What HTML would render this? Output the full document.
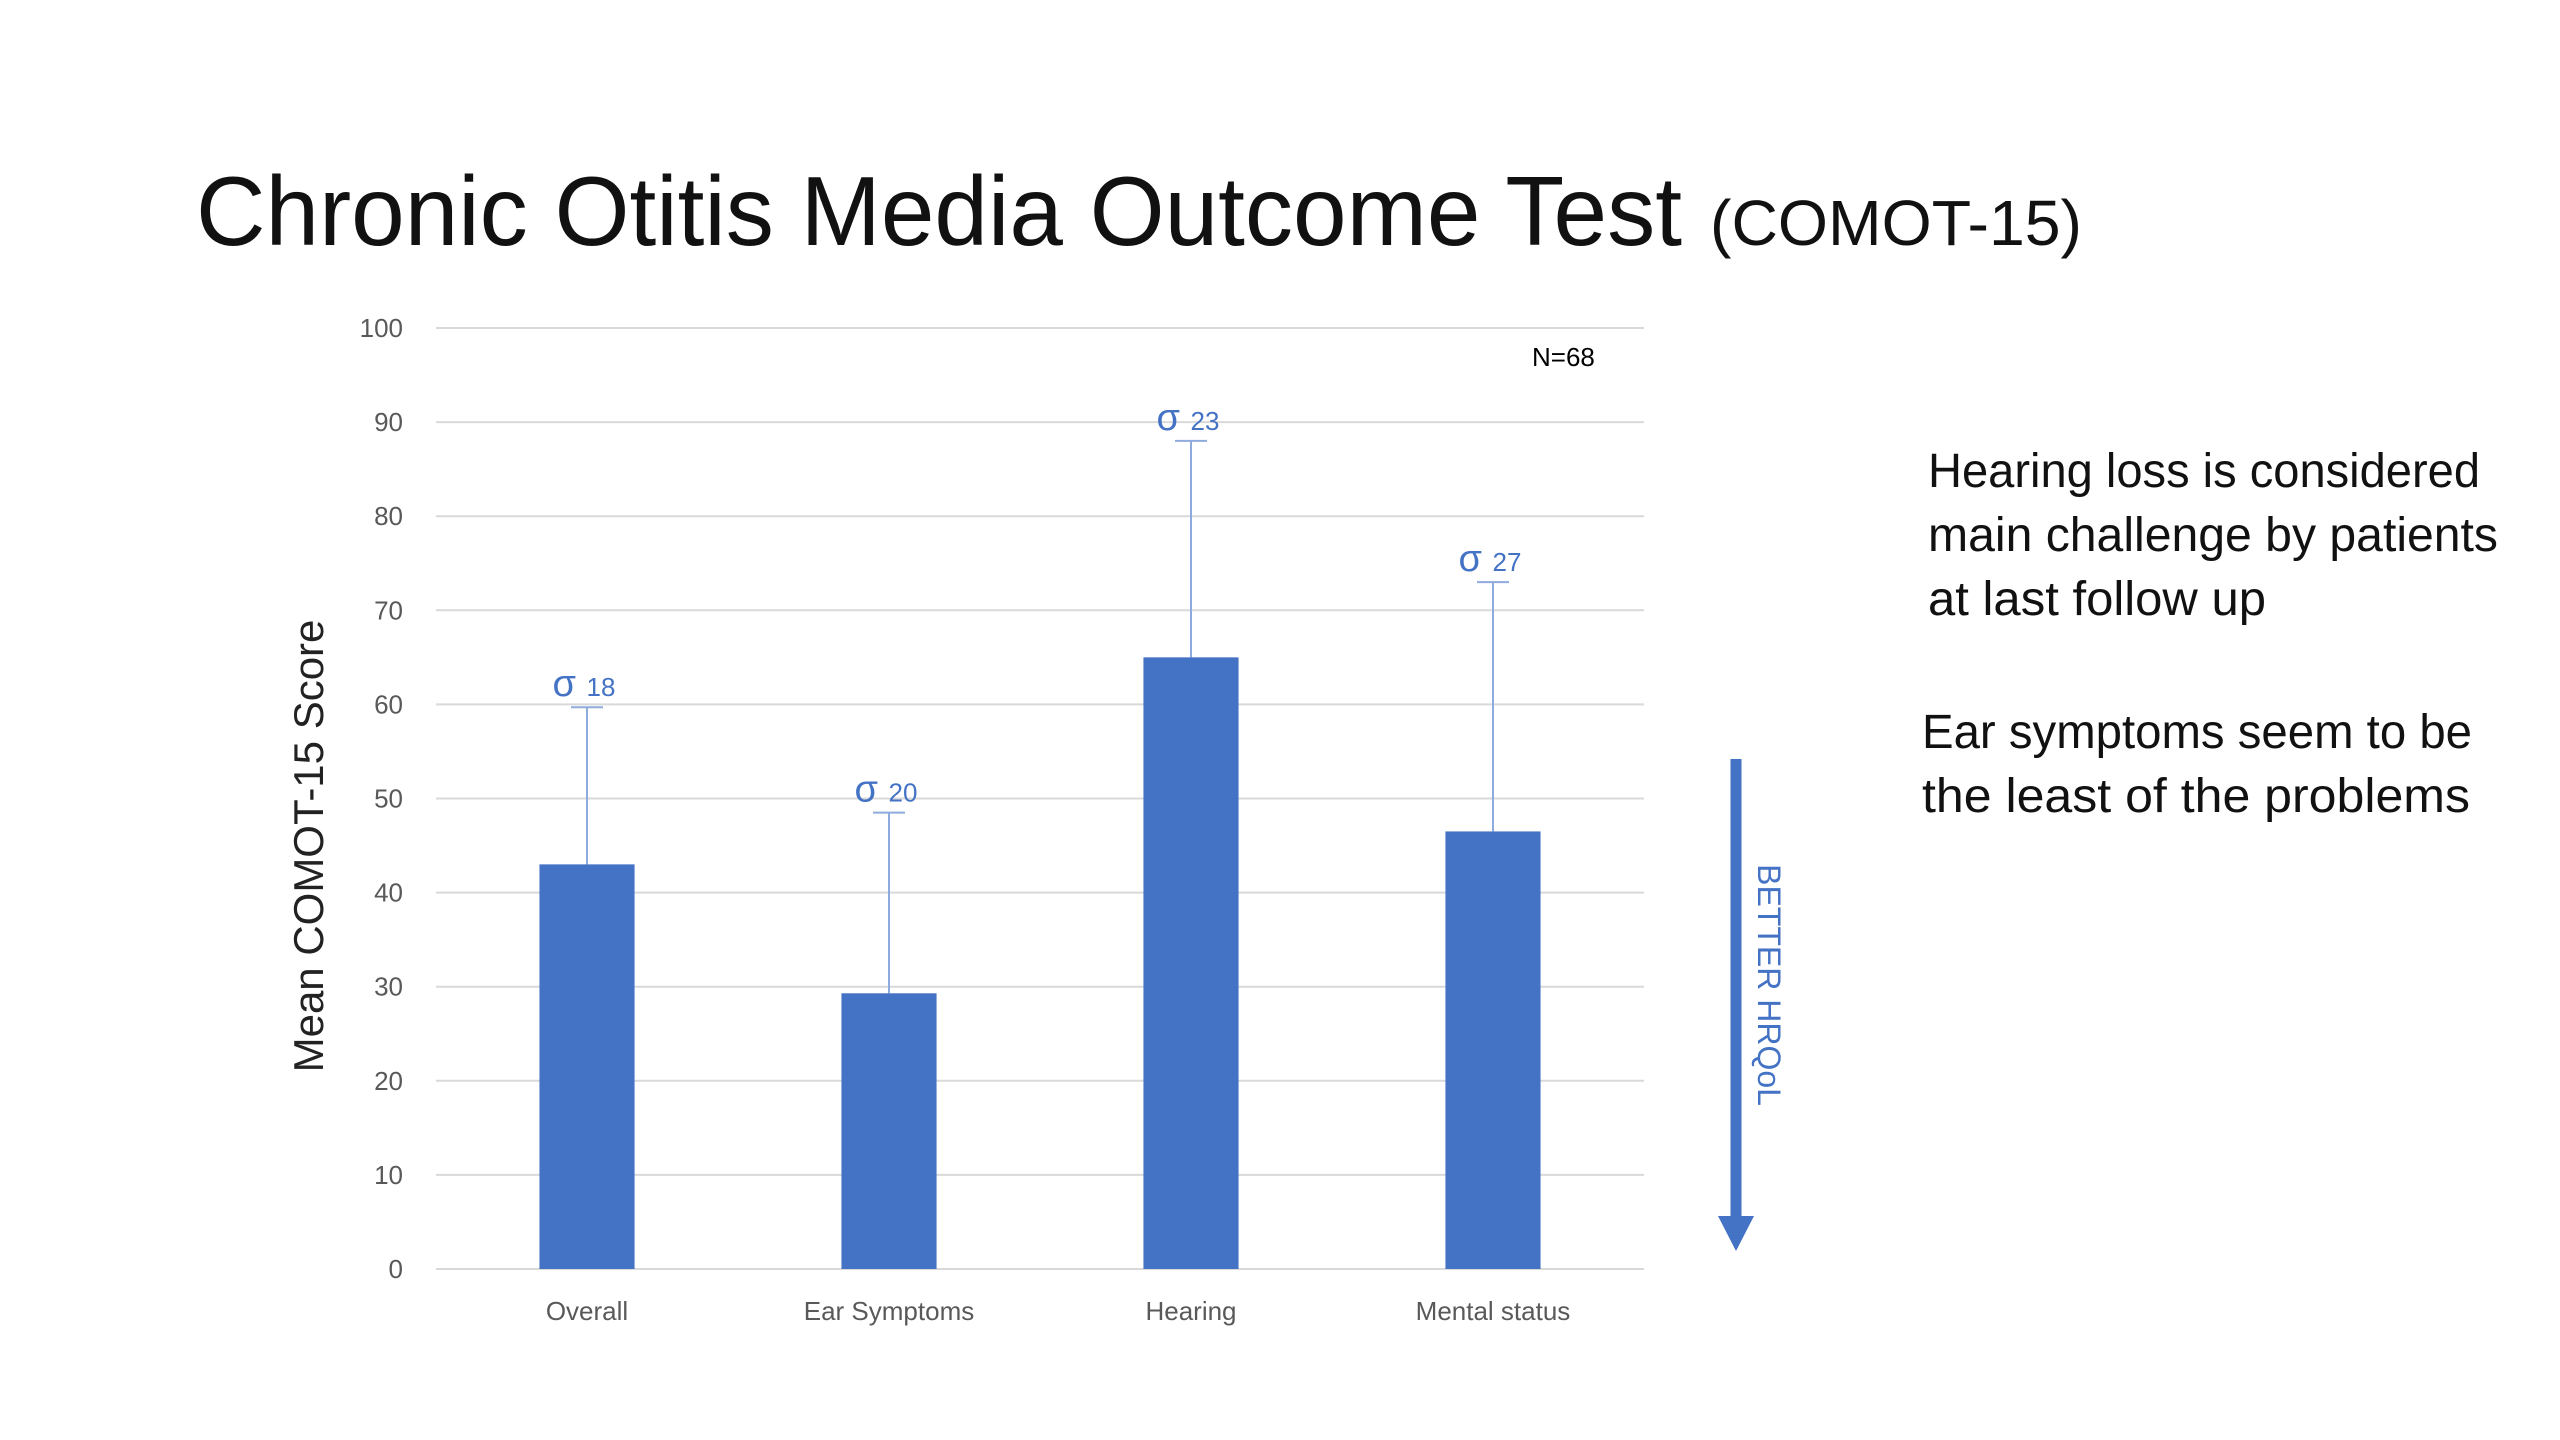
<!DOCTYPE html>
<html><head><meta charset="utf-8"><style>
html,body{margin:0;padding:0;background:#fff;}
svg{display:block;font-family:"Liberation Sans",sans-serif;}
</style></head><body>
<svg id="chart" width="2560" height="1440" viewBox="0 0 2560 1440" xmlns="http://www.w3.org/2000/svg">
<text x="196" y="245" font-size="98" fill="#111" textLength="1486" lengthAdjust="spacingAndGlyphs">Chronic Otitis Media Outcome Test</text>
<text x="1710" y="245" font-size="64" fill="#111" textLength="372" lengthAdjust="spacingAndGlyphs">(COMOT-15)</text>
<g id="grid"></g>
<g id="bars"></g>
<text transform="translate(323,846) rotate(-90)" text-anchor="middle" font-size="42" fill="#222">Mean COMOT-15 Score</text>
<text x="1532" y="366" font-size="26" fill="#000">N=68</text>
<g>
<line x1="1736" y1="759" x2="1736" y2="1220" stroke="#4472C4" stroke-width="11"/>
<polygon points="1718,1216 1754,1216 1736,1251" fill="#4472C4"/>
</g>
<text transform="translate(1758,985) rotate(90)" text-anchor="middle" font-size="32" fill="#4472C4">BETTER HRQoL</text>
<g font-size="48" fill="#111">
<text x="1928" y="487" textLength="552" lengthAdjust="spacingAndGlyphs">Hearing loss is considered</text>
<text x="1928" y="551" textLength="570" lengthAdjust="spacingAndGlyphs">main challenge by patients</text>
<text x="1928" y="615" textLength="338" lengthAdjust="spacingAndGlyphs">at last follow up</text>
<text x="1922" y="748" textLength="550" lengthAdjust="spacingAndGlyphs">Ear symptoms seem to be</text>
<text x="1922" y="812" textLength="548" lengthAdjust="spacingAndGlyphs">the  least of the problems</text>
</g>
</svg>
<script>
const categories = ["Overall","Ear Symptoms","Hearing","Mental status"];
const means = [43, 29.3, 65, 46.5];
const sdTops = [59.7, 48.5, 88, 73];
const sigmaLabels = ["18","20","23","27"];
const yTicks = [0,10,20,30,40,50,60,70,80,90,100];

const NS = "http://www.w3.org/2000/svg";
const L = 436, R = 1644, Y0 = 1269, Y100 = 328;
const yScale = v => Y0 - (v/100)*(Y0-Y100);
const band = (R-L)/categories.length;
const xCenter = i => L + band*(i+0.5);
const barW = band*0.315;
function mk(tag, attrs, parent){const e=document.createElementNS(NS,tag);for(const k in attrs)e.setAttribute(k,attrs[k]);parent.appendChild(e);return e;}
const grid = document.getElementById('grid');
const bars = document.getElementById('bars');
yTicks.forEach(t=>{
  const ln = mk('line',{x1:L,x2:R,y1:yScale(t),y2:yScale(t),stroke:'#d9d9d9','stroke-width':2},grid);
  
  
  const tx = mk('text',{x:403,y:yScale(t)+9,'text-anchor':'end','font-size':26,fill:'#595959'},grid);
  tx.textContent = t;
  
  
});
categories.forEach((c,i)=>{
  const cx = xCenter(i);
  const eb = mk('line',{x1:cx,x2:cx,y1:yScale(sdTops[i]),y2:yScale(means[i]),stroke:'#8faadc','stroke-width':2},bars);
  
  
  const cap = mk('line',{x1:cx-16,x2:cx+16,y1:yScale(sdTops[i]),y2:yScale(sdTops[i]),stroke:'#8faadc','stroke-width':2},bars);
  
  
  const r = mk('rect',{x:cx-barW/2,y:yScale(means[i]),width:barW,height:Y0-yScale(means[i]),fill:'#4472C4'},bars);
  
  
  const s = mk('text',{x:cx-3,y:yScale(sdTops[i])-11,'text-anchor':'middle',fill:'#4472C4'},bars);
  
  
  const s1 = mk('tspan',{'font-size':38},s); s1.textContent='σ ';
  const s2 = mk('tspan',{'font-size':26},s); s2.textContent=sigmaLabels[i];
  const cl = mk('text',{x:cx,y:1320,'text-anchor':'middle','font-size':26,fill:'#595959'},bars);
  cl.textContent = c;
  
  
});
</script>
</body></html>
